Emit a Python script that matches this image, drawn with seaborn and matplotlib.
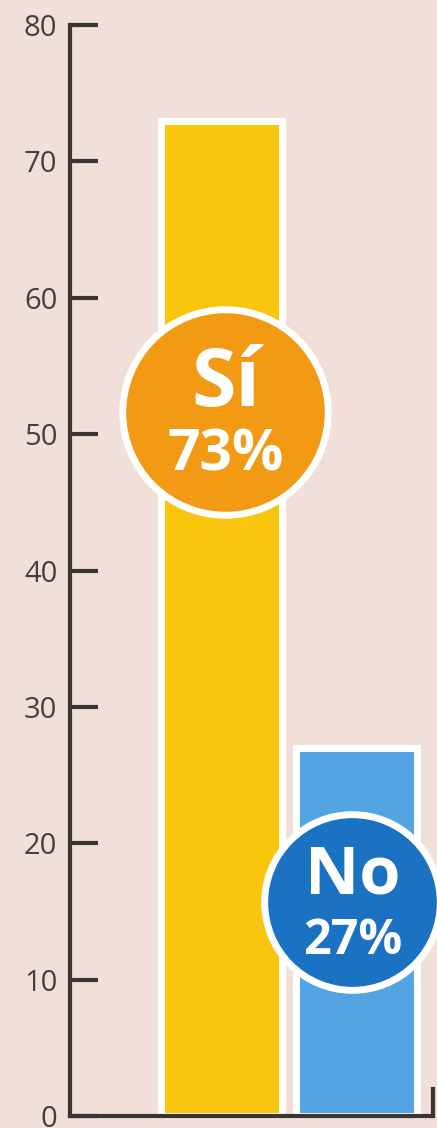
import matplotlib
matplotlib.use("Agg")
import matplotlib.pyplot as plt
import seaborn as sns

# Data
answers = ["Sí", "No"]
shares = [73, 27]
bar_colors = ["#F9C50D", "#52A4E2"]
badge_colors = ["#F29A14", "#1B72C2"]
y_ticks = [0, 10, 20, 30, 40, 50, 60, 70, 80]

bg = "#F1E0DA"
ink = "#3A3535"

sns.set_style("ticks")
plt.rcParams['font.family'] = ['Open Sans', 'DejaVu Sans']

fig = plt.figure(figsize=(4.37, 11.28), dpi=100, facecolor=bg)
ax = fig.add_axes([0.160, 0.0106, 0.831, 0.9672])
ax.set_facecolor(bg)

sns.barplot(x=answers, y=shares, hue=answers, palette=bar_colors, legend=False,
            width=0.9, edgecolor="white", linewidth=5, saturation=1, ax=ax)

ax.set_xlim(-1.122, 1.567)
ax.set_ylim(0, 80)
ax.set_yticks(y_ticks)
ax.set_xticks([])
ax.set_xlabel("")
ax.set_ylabel("")
ax.tick_params(axis="y", direction="in", length=20, width=3, color=ink,
               labelsize=21, labelcolor="#454040", pad=9)
for side in ["left", "bottom", "right"]:
    ax.spines[side].set_linewidth(3)
    ax.spines[side].set_color(ink)
ax.spines["top"].set_visible(False)
ax.spines["right"].set_bounds(0, 2)
for lbl in ax.get_yticklabels():
    lbl.set_clip_on(False)

# round badges over the bars
badge_pos = [(0.03, 51.6, 21900, 58, 41, 53.6, 48.4),
             (0.97, 15.7, 16000, 48, 35, 17.6, 12.8)]
for i, (bx, by, size, fs1, fs2, ty1, ty2) in enumerate(badge_pos):
    ax.scatter([bx], [by], s=size, color=badge_colors[i], edgecolor="white",
               linewidth=5, zorder=5, clip_on=False)
    ax.text(bx, ty1, answers[i], color="white", fontsize=fs1, fontweight="bold",
            ha="center", va="center", zorder=6)
    ax.text(bx, ty2, f"{shares[i]}%", color="white", fontsize=fs2, fontweight="bold",
            ha="center", va="center", zorder=6)

fig.savefig("out.png", dpi=100, facecolor=bg)
